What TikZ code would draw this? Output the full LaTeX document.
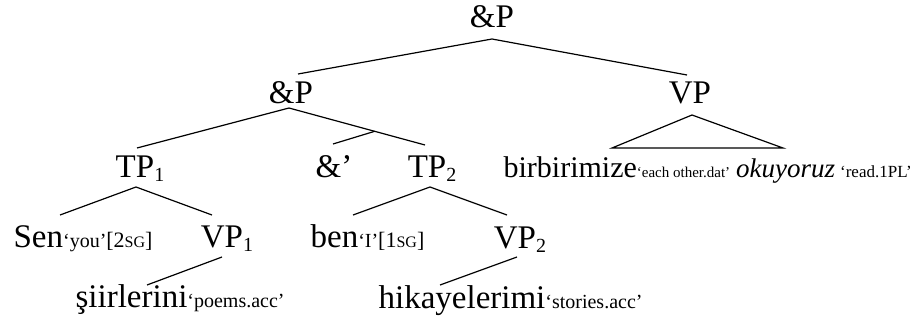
\documentclass[tikz,border=0pt]{standalone}
\usepackage{fontspec}
\setmainfont{Liberation Serif}
\usetikzlibrary{calc}
\newcommand\glL[1]{{\fontsize{20}{24}\selectfont #1}}
\newcommand\glB[1]{{\fontsize{22}{24}\selectfont #1}}
\newcommand\glR[1]{{\fontsize{17}{20}\selectfont #1}}
\newcommand\glS[1]{{\fontsize{15}{18}\selectfont #1}}
\newcommand\smc[1]{{\fontsize{16}{18}\selectfont #1}}
\newcommand\sbs[1]{\raisebox{-4pt}{\fontsize{20}{24}\selectfont #1}}
\begin{document}
\begin{tikzpicture}[x=1pt,y=-1pt,
  line width=1.2pt,
  tx/.style={inner sep=0pt, font=\fontsize{33}{40}\selectfont, anchor=base},
  lf/.style={tx, anchor=base west}]
\useasboundingbox (0,0) rectangle (915,329);
% labels
\node[tx] (top) at (492,28) {\&P};
\node[tx] (lP) at (291,103) {\&P};
\node[tx] (rVP) at (690,103) {VP};
\node[tx] (TPa) at (140,177) {TP\sbs{1}};
\node[tx] (amp) at (334,177) {\&’};
\node[tx] (TPb) at (432,177) {TP\sbs{2}};
\node[lf] (sen) at (13,247) {Sen\glL{‘you’}\glB{[2\smc{SG}]}};
\node[tx] (VPa) at (227,247) {VP\sbs{1}};
\node[lf] (ben) at (310,247) {ben\glL{‘I’}\glB{[1\smc{SG}]}};
\node[tx] (VPb) at (520,248) {VP\sbs{2}};
\node[lf] (sii) at (75,307) {şiirlerini\glL{‘poems.acc’}};
\node[lf] (hik) at (378,308) {hikayelerimi\glL{‘stories.acc’}};
\node[lf] (bir) at (503,177) {{\fontsize{30}{34}\selectfont birbirimize}\glS{‘each other.dat’}\hspace{6pt}{\fontsize{27}{32}\selectfont\itshape okuyoruz}\hspace{5pt}\glR{‘read.1PL’}};
% connectors
\draw ([xshift=7pt,yshift=29pt]lP.base) -- ([yshift=-11pt]top.base) -- ([xshift=-3pt,yshift=28pt]rVP.base);
\draw ([xshift=-3pt,yshift=29pt]TPa.base) -- ([xshift=-2pt,yshift=-5pt]lP.base) -- ([xshift=-7pt,yshift=32pt]TPb.base);
\draw ([xshift=-1pt,yshift=33pt]amp.base) -- ($([xshift=-2pt,yshift=-5pt]lP.base)!0.63!([xshift=-7pt,yshift=32pt]TPb.base)$);
\draw ([xshift=47pt,yshift=32pt]sen.base west) -- ([xshift=-4pt,yshift=-10pt]TPa.base) -- ([xshift=-15pt,yshift=32pt]VPa.base);
\draw ([xshift=43pt,yshift=32pt]ben.base west) -- ([xshift=-2pt,yshift=-10pt]TPb.base) -- ([xshift=-13pt,yshift=33pt]VPb.base);
\draw ([xshift=72pt,yshift=22pt]sii.base west) -- ([xshift=-5pt,yshift=-10pt]VPa.base);
\draw ([xshift=62pt,yshift=23pt]hik.base west) -- ([xshift=-3pt,yshift=-9pt]VPb.base);
\draw ([xshift=109pt,yshift=29pt]bir.base west) -- ([xshift=2pt,yshift=-12pt]rVP.base) -- ([xshift=280pt,yshift=29pt]bir.base west) -- cycle;
\end{tikzpicture}
\end{document}
